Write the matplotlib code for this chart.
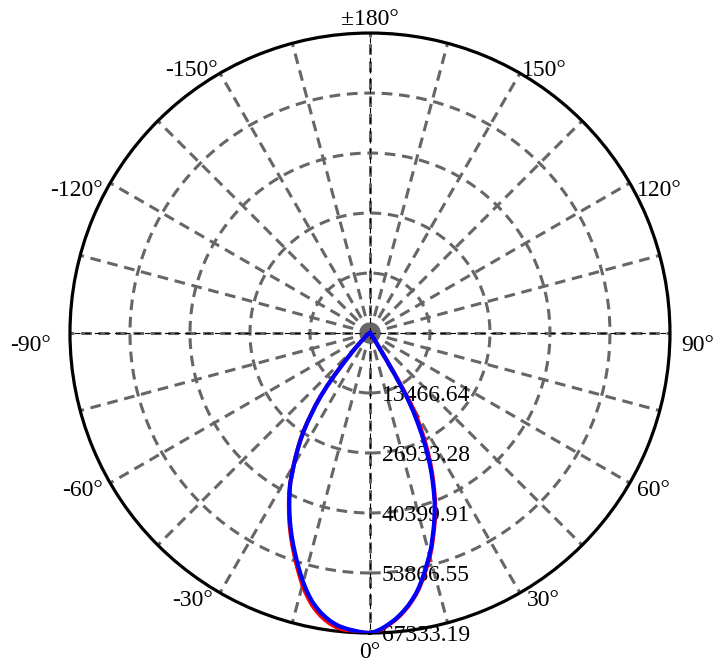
import numpy as np
import matplotlib
matplotlib.use('Agg')
import matplotlib.pyplot as plt
from matplotlib.transforms import offset_copy

# valores del diagrama polar (cd)
rmax = 67333.19
ring_values = [13466.64, 26933.28, 40399.91, 53866.55, 67333.19]
ring_labels = ['13466.64', '26933.28', '40399.91', '53866.55', '67333.19']

angle_ticks = [0, 30, 60, 90, 120, 150, 180, -150, -120, -90, -60, -30]
angle_labels = ['0°', '30°', '60°', '90°', '120°', '150°', '±180°',
                '-150°', '-120°', '-90°', '-60°', '-30°']

# lado izquierdo (angulos negativos), en grados
ang_left = [0, 1, 2, 3, 4, 5, 6, 7, 8, 9, 10, 11, 12, 13, 14, 15, 16, 17, 18, 19, 20,
            21, 22, 23, 24, 25, 26, 27, 28, 29, 30, 31, 32, 33, 34, 35, 36, 37, 38, 39,
            40, 41, 42, 43, 44, 46, 50, 60, 70, 80, 90]
blue_left = [67333, 67250, 67100, 66900, 66700, 66450, 66150, 65700, 65150, 64460, 63700,
             62800, 61800, 60600, 59300, 57900, 56400, 54900, 53400, 51900, 50450,
             48980, 47450, 45950, 44400, 42850, 41300, 39700, 38100, 36050, 34200,
             32350, 30500, 28650, 26700, 24550, 22200, 20200, 17800, 15200,
             12500, 9800, 7600, 6000, 4800, 3000, 1500, 500, 150, 50, 0]
red_left = [67333, 67300, 67250, 67150, 67000, 66850, 66650, 66250, 65750, 65100, 64350,
            63450, 62450, 61250, 59950, 58550, 57000, 55450, 53900, 52350, 50850,
            49350, 47800, 46250, 44650, 43050, 41450, 39800, 38150, 36100, 34250,
            32400, 30550, 28700, 26750, 24600, 22250, 20250, 17850, 15250,
            12500, 9800, 7600, 6000, 4800, 3000, 1500, 500, 150, 50, 0]

# lado derecho
ang_right = [0, 1, 2, 3, 4, 5, 6, 7, 8, 9, 10, 11, 12, 13, 14, 15, 16, 17, 18, 19, 20,
             21, 22, 23, 24, 25, 26, 27, 28, 29, 30, 31, 32, 33, 34, 36, 38, 45, 60, 90]
blue_right = [67333, 67050, 66550, 65950, 65250, 64550, 63700, 62750, 61750, 60600, 59400,
              58000, 56400, 54800, 53150, 51600, 49900, 48000, 46200, 44380, 42450,
              40500, 38200, 35950, 33660, 31150, 28550, 25800, 22800, 19900, 16200,
              10000, 5000, 3000, 2000, 1200, 800, 300, 100, 0]
red_right = [67333, 67100, 66650, 66100, 65400, 64700, 63850, 62900, 61900, 60750, 59550,
             58200, 56650, 55050, 53450, 51900, 50200, 48300, 46500, 44650, 42700,
             40800, 38600, 36400, 34200, 31900, 29500, 27000, 24300, 21800, 18500,
             11800, 5500, 3000, 2000, 1200, 800, 300, 100, 0]

GREY = '#666666'
FONT = 'Liberation Serif'

fig = plt.figure(figsize=(7.2, 6.7), dpi=100)
ax = fig.add_axes([0.0972, 0.0552, 0.8333, 0.8955], projection='polar')
ax.set_theta_zero_location('S')
ax.set_theta_direction(1)
ax.set_ylim(0, rmax)
ax.grid(False)
ax.set_xticks([])
ax.set_yticks([])
ax.spines['polar'].set_linewidth(2.3)
ax.spines['polar'].set_color('black')

# circulos punteados
t = np.linspace(0, 2*np.pi, 721)
for v in ring_values[:-1]:
  ax.plot(t, np.full_like(t, v), color=GREY, lw=2.2, ls=(0, (3.5, 2.2)), dash_capstyle='butt', zorder=1)

# rayos cada 15 grados
for a in range(-180, 180, 15):
  ax.plot([np.radians(a)]*2, [0, rmax], color=GREY, lw=2.2, ls=(0, (3.5, 2.2)),
          dash_capstyle='butt', zorder=1)
for a in [0, 90, 180, 270]:
  ax.plot([np.radians(a)]*2, [0, rmax], color='black', lw=0.8, ls=(0, (5, 4)), zorder=2)

# etiquetas radiales
for v, lab in zip(ring_values, ring_labels):
  tr = offset_copy(ax.transData, fig=fig, x=12, y=0, units='dots')
  ax.text(0, v, lab, transform=tr, ha='left', va='center_baseline', fontsize=17,
          family=FONT, zorder=3)

# etiquetas de angulo
for a, lab in zip(angle_ticks, angle_labels):
  s = np.sin(np.radians(a))
  ha = 'left' if s > 0.01 else ('right' if s < -0.01 else 'center')
  if a == 180:
    dx, dy, va = 0, 8, 'baseline'
  elif a == 0:
    dx, dy, va = 0, -9, 'top'
  elif abs(a) == 150:
    dx, dy, va = 2*np.sign(a), -3, 'baseline'
  elif a == 90:
    dx, dy, va = 11, -2, 'top'
  elif a == -90:
    dx, dy, va = -19, -2, 'top'
  else:
    dx, dy, va = 7*np.sign(a), 3, 'top'
  tr = offset_copy(ax.transData, fig=fig, x=dx, y=dy, units='dots')
  ax.text(np.radians(a), rmax, lab, transform=tr, ha=ha, va=va, fontsize=17,
          family=FONT, clip_on=False)

def plane(ang_l, val_l, ang_r, val_r):
  th = [-x for x in ang_l[::-1]] + ang_r[1:]
  r = val_l[::-1] + val_r[1:]
  return np.radians(th), np.array(r)

th, r = plane(ang_left, red_left, ang_right, red_right)
ax.plot(th, r, color='red', lw=3, zorder=4, solid_joinstyle='round')
th, r = plane(ang_left, blue_left, ang_right, blue_right)
ax.plot(th, r, color='blue', lw=3, zorder=5, solid_joinstyle='round')

fig.savefig('out.png', dpi=100)
